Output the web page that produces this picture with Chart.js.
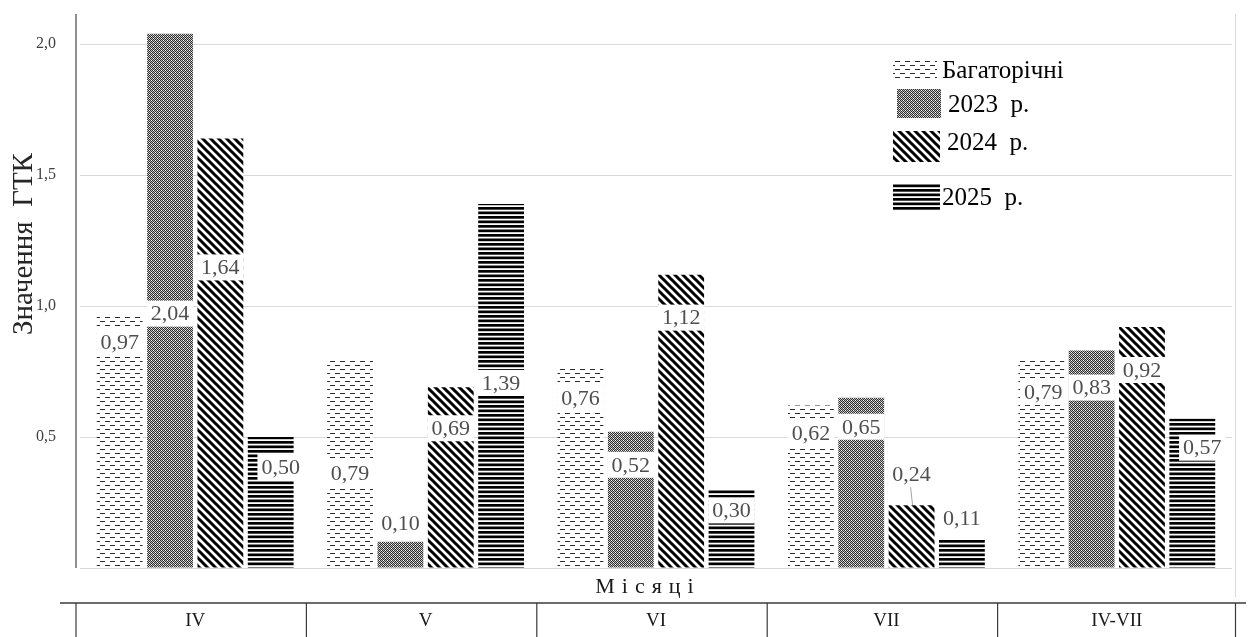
<!DOCTYPE html>
<html>
<head>
<meta charset="utf-8">
<script src="https://cdn.jsdelivr.net/npm/chart.js@4.4.0/dist/chart.umd.min.js"></script>
<style>
  html, body { margin: 0; padding: 0; background: #ffffff; }
  #wrap { width: 1251px; height: 637px; position: relative; }
</style>
</head>
<body>
<div id="wrap"><canvas id="c" width="1251" height="637"></canvas></div>
<script>
// ---- data ----
const categories = ['IV', 'V', 'VI', 'VII', 'IV-VII'];
const seriesNames = ['Багаторічні', '2023  р.', '2024  р.', '2025  р.'];
const multiYear = [0.97, 0.79, 0.76, 0.62, 0.79];
const y2023 = [2.04, 0.10, 0.52, 0.65, 0.83];
const y2024 = [1.64, 0.69, 1.12, 0.24, 0.92];
const y2025 = [0.50, 1.39, 0.30, 0.11, 0.57];
const yTicks = [0.5, 1.0, 1.5, 2.0];

// ---- patterns ----
function makePattern(kind) {
  const c = document.createElement('canvas');
  const g = c.getContext('2d');
  if (kind === 'dash') {
    c.width = 10; c.height = 8;
    g.fillStyle = '#fff'; g.fillRect(0, 0, 10, 8);
    g.fillStyle = '#2a2a2a';
    g.fillRect(0, 1, 5, 1);
    g.fillRect(5, 5, 5, 1);
  } else if (kind === 'dots') {
    c.width = 4; c.height = 4;
    const D = '#2e2e2e', L = '#bdbdbd', W = '#ffffff';
    const grid = [
      [D, L, D, W],
      [L, D, L, D],
      [D, W, D, L],
      [L, D, L, D]
    ];
    for (let y = 0; y < 4; y++) for (let x = 0; x < 4; x++) {
      g.fillStyle = grid[y][x];
      g.fillRect(x, y, 1, 1);
    }
  } else if (kind === 'diag') {
    const s = 8;
    c.width = s; c.height = s;
    g.fillStyle = '#fff'; g.fillRect(0, 0, s, s);
    g.strokeStyle = '#000'; g.lineWidth = 3;
    g.beginPath();
    g.moveTo(-1, -1); g.lineTo(s + 1, s + 1);
    g.moveTo(s - 2, -2); g.lineTo(s + 2, 2);
    g.moveTo(-2, s - 2); g.lineTo(2, s + 2);
    g.stroke();
  } else {
    c.width = 4; c.height = 9;
    g.fillStyle = '#fff'; g.fillRect(0, 0, 4, 9);
    g.fillStyle = '#000';
    g.fillRect(0, 0, 4, 2.7);
    g.fillRect(0, 4.5, 4, 2.7);
  }
  return g.createPattern(c, 'repeat');
}
const patterns = [makePattern('dash'), makePattern('dots'), makePattern('diag'), makePattern('hlines')];

// label placement tweaks (pixels relative to bar top / bar centre)
const labelDy = [
  [28, 112, 29, 28, 31],
  [280, -19, 33, 29, 37],
  [129, 41, 43, -31, 43],
  [30, 179, 21, -21, 29]
];
const labelDx = [
  [0, 0, 0, 0, 2],
  [0, 0, 0, 0, 0],
  [0, 0, 0, 0, 0],
  [10, 0, 0, 0, 10]
];

const serif = '"Liberation Serif", "Times New Roman", serif';

const decorPlugin = {
  id: 'decor',
  beforeDatasetsDraw(chart) {
    const { ctx, chartArea } = chart;
    ctx.save();
    ctx.strokeStyle = '#d9d9d9';
    ctx.lineWidth = 1;
    ctx.beginPath();
    ctx.moveTo(chartArea.right + 3.5, chartArea.top);
    ctx.lineTo(chartArea.right + 3.5, 597);
    ctx.stroke();
    ctx.restore();
  },
  afterDatasetsDraw(chart) {
    const { ctx, chartArea } = chart;
    ctx.save();
    // y axis line
    ctx.strokeStyle = '#6b6b6b';
    ctx.lineWidth = 1.5;
    ctx.beginPath();
    ctx.moveTo(chartArea.left - 4, chartArea.top);
    ctx.lineTo(chartArea.left - 4, chartArea.bottom);
    ctx.stroke();

    // value labels
    ctx.font = '22px ' + serif;
    ctx.textAlign = 'center';
    ctx.textBaseline = 'middle';
    chart.data.datasets.forEach((ds, d) => {
      const meta = chart.getDatasetMeta(d);
      meta.data.forEach((bar, i) => {
        const txt = ds.data[i].toFixed(2).replace('.', ',');
        const w = ctx.measureText(txt).width;
        const cx = bar.x + labelDx[d][i];
        const cy = bar.y + labelDy[d][i];
        ctx.fillStyle = '#ffffff';
        ctx.fillRect(cx - w / 2 - 4, cy - 13, w + 8, 26);
        if (labelDy[d][i] < -25) {
          ctx.strokeStyle = '#a6a6a6';
          ctx.lineWidth = 1;
          ctx.beginPath();
          ctx.moveTo(cx - 1, cy + 13);
          ctx.lineTo(cx + 1, bar.y);
          ctx.stroke();
        }
        ctx.fillStyle = '#4f4f4f';
        ctx.fillText(txt, cx, cy + 1);
      });
    });

    // y axis title
    ctx.save();
    ctx.translate(24, 244);
    ctx.rotate(-Math.PI / 2);
    ctx.font = '29px ' + serif;
    ctx.fillStyle = '#262626';
    ctx.textAlign = 'center';
    ctx.textBaseline = 'middle';
    ctx.fillText('Значення  ГТК', 0, 0);
    ctx.restore();

    // x axis title
    ctx.font = '22px ' + serif;
    ctx.fillStyle = '#1a1a1a';
    ctx.textAlign = 'center';
    ctx.textBaseline = 'middle';
    try { ctx.letterSpacing = '7px'; } catch (e) {}
    ctx.fillText('Місяці', 648, 587);
    try { ctx.letterSpacing = '0px'; } catch (e) {}

    // table lines below
    ctx.strokeStyle = '#3a3a3a';
    ctx.lineWidth = 1.5;
    ctx.beginPath();
    ctx.moveTo(60, 603);
    ctx.lineTo(1246, 603);
    ctx.stroke();
    const n = categories.length;
    const step = (chartArea.right - chartArea.left) / n;
    ctx.lineWidth = 1.2;
    ctx.beginPath();
    for (let k = 0; k <= n; k++) {
      let x = chartArea.left + k * step - 4;
      if (k === n) x = chartArea.right + 3.5;
      ctx.moveTo(x, 603);
      ctx.lineTo(x, 637);
    }
    ctx.stroke();

    // legend
    const leg = [
      { x: 893, y: 60, w: 44, h: 18, tx: 942, ty: 71 },
      { x: 897, y: 89, w: 44, h: 29, tx: 948, ty: 105 },
      { x: 893, y: 131, w: 47, h: 31, tx: 947, ty: 143 },
      { x: 893, y: 183, w: 47, h: 27, tx: 942, ty: 198 }
    ];
    ctx.font = '25px ' + serif;
    ctx.textAlign = 'left';
    leg.forEach((L, k) => {
      ctx.fillStyle = patterns[k];
      ctx.fillRect(L.x, L.y, L.w, L.h);
      ctx.fillStyle = '#000';
      ctx.fillText(seriesNames[k], L.tx, L.ty);
    });
    ctx.restore();
  }
};

const datasets = [multiYear, y2023, y2024, y2025].map((arr, k) => ({
  label: seriesNames[k],
  data: arr,
  backgroundColor: patterns[k],
  borderWidth: 0,
  categoryPercentage: 0.874,
  barPercentage: 0.91
}));

new Chart(document.getElementById('c'), {
  type: 'bar',
  data: { labels: categories, datasets },
  options: {
    responsive: false,
    animation: false,
    devicePixelRatio: 1,
    layout: { padding: { top: 14, right: 19, left: 0, bottom: 0 } },
    plugins: { legend: { display: false }, tooltip: { enabled: false } },
    scales: {
      x: {
        grid: { display: false, drawTicks: false },
        border: { display: false },
        ticks: {
          padding: 42,
          color: '#1a1a1a',
          font: { family: serif, size: 19 }
        },
        afterFit(s) { s.height = 69; s.paddingLeft = 0; s.paddingRight = 0; }
      },
      y: {
        min: 0,
        max: 2.115,
        grid: { color: '#d9d9d9', lineWidth: 1, drawTicks: false },
        border: { display: false },
        afterBuildTicks(s) { s.ticks = [0].concat(yTicks).map(v => ({ value: v })); },
        ticks: {
          padding: 24,
          color: '#404040',
          font: { family: serif, size: 16 },
          callback: v => v === 0 ? '' : v.toFixed(1).replace('.', ',')
        },
        afterFit(s) { s.width = 80; s.paddingTop = 0; s.paddingBottom = 0; }
      }
    }
  },
  plugins: [decorPlugin]
});
</script>
</body>
</html>
